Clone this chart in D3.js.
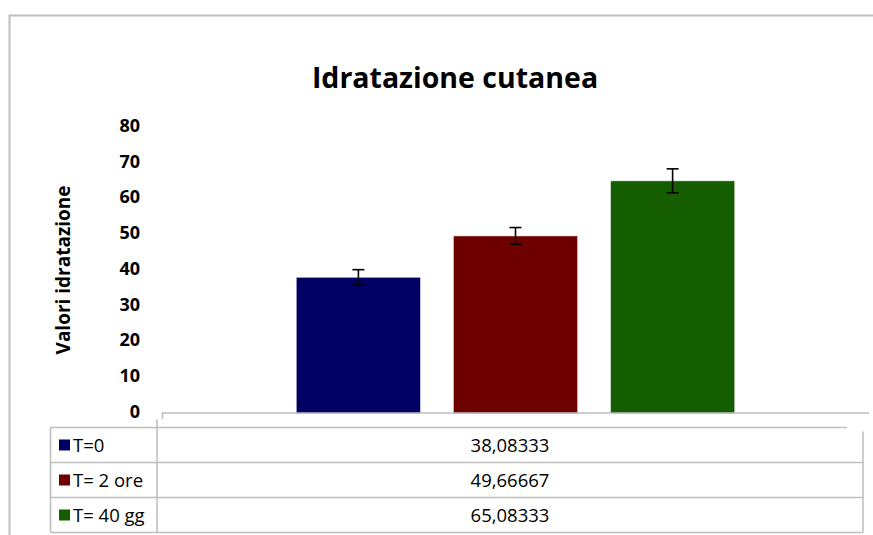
<!DOCTYPE html>
<html>
<head>
<meta charset="utf-8">
<script src="https://cdn.jsdelivr.net/npm/d3@7"></script>
<style>
  html, body { margin: 0; padding: 0; background: #fff; }
  svg { display: block; font-family: "Open Sans", sans-serif; }
</style>
</head>
<body>
<svg id="chart" width="873" height="535"></svg>
<script>
// ---- data ----
const category = ["Idratazione cutanea"];
const seriesNames = ["T=0", "T= 2 ore", "T= 40 gg"];
const seriesValues = [38.08333, 49.66667, 65.08333];
const seriesLabels = ["38,08333", "49,66667", "65,08333"];
const seriesErrors = [2.15, 2.35, 3.35];
const seriesColors = ["#000064", "#6e0000", "#145e00"];
const yTicks = [0, 10, 20, 30, 40, 50, 60, 70, 80];
const chartTitle = "Idratazione cutanea";
const yTitle = "Valori idratazione";

const svg = d3.select("#chart");
const frame = "#bfbfbf";

// chart frame (top + left visible)
svg.append("path")
  .attr("d", "M9.5,535 V15.5 H873")
  .attr("fill", "none").attr("stroke", frame).attr("stroke-width", 2);

// title
svg.append("text")
  .attr("x", 455).attr("y", 88)
  .attr("text-anchor", "middle")
  .attr("font-size", 28.5).attr("font-weight", 700)
  .text(chartTitle);

// scales
const plotLeft = 162, plotRight = 869;
const y = d3.scaleLinear().domain([0, 80]).range([413.5, 127.5]);
const x0 = d3.scaleBand().domain(category).range([plotLeft, plotRight])
  .paddingInner(0).paddingOuter(0.25);
const x1 = d3.scaleBand().domain(seriesNames).range([0, x0.bandwidth()])
  .paddingInner(0.21).paddingOuter(0.105);

// y axis labels (no axis line)
const yAxis = d3.axisLeft(y).tickValues(yTicks).tickSize(0).tickPadding(0);
const yg = svg.append("g").attr("transform", "translate(140,-2)").call(yAxis);
yg.select(".domain").remove();
yg.selectAll("text")
  .attr("font-family", "'Open Sans', sans-serif")
  .attr("font-size", 18).attr("font-weight", 700).attr("fill", "#000");

// y title
svg.append("text")
  .attr("transform", "translate(70,270) rotate(-90)")
  .attr("text-anchor", "middle")
  .attr("font-size", 19).attr("font-weight", 700)
  .text(yTitle);

// bars
const g = svg.append("g");
const data = seriesNames.map((s, i) => ({ s, v: seriesValues[i], e: seriesErrors[i], c: seriesColors[i] }));
const gx = x0(category[0]);
g.selectAll("rect.bar").data(data).enter().append("rect")
  .attr("class", "bar")
  .attr("x", d => gx + x1(d.s))
  .attr("y", d => y(d.v))
  .attr("width", x1.bandwidth())
  .attr("height", d => y(0) - y(d.v))
  .attr("fill", d => d.c)
  .attr("stroke", "#ffffff").attr("stroke-opacity", 0.45).attr("stroke-width", 1);

// error bars
const eb = g.selectAll("g.err").data(data).enter().append("g").attr("class", "err")
  .attr("stroke", "#000").attr("stroke-width", 1.6);
eb.append("line")
  .attr("x1", d => gx + x1(d.s) + x1.bandwidth() / 2)
  .attr("x2", d => gx + x1(d.s) + x1.bandwidth() / 2)
  .attr("y1", d => y(d.v + d.e)).attr("y2", d => y(d.v - d.e));
[1, -1].forEach(sign => {
  eb.append("line")
    .attr("x1", d => gx + x1(d.s) + x1.bandwidth() / 2 - 6)
    .attr("x2", d => gx + x1(d.s) + x1.bandwidth() / 2 + 6)
    .attr("y1", d => y(d.v + sign * d.e)).attr("y2", d => y(d.v + sign * d.e));
});

// x axis line with left tick
svg.append("path")
  .attr("d", `M${plotLeft + 0.5},419 V${y(0) - 0.5} H${plotRight}`)
  .attr("fill", "none").attr("stroke", frame).attr("stroke-width", 1.6);

// data table
const tLeft = 50.5, tDiv = 157, tRight = 863, tTop = 427.5;
const rowH = 35;
const rowTops = seriesNames.map((s, i) => tTop + i * rowH);
const tBottom = tTop + seriesNames.length * rowH;
const tg = svg.append("g").attr("stroke", frame).attr("stroke-width", 1.6).attr("fill", "none");
tg.append("line").attr("x1", tLeft).attr("x2", 847).attr("y1", tTop).attr("y2", tTop);
tg.append("line").attr("x1", tLeft).attr("x2", tLeft).attr("y1", tTop).attr("y2", tBottom);
tg.append("line").attr("x1", tDiv).attr("x2", tDiv).attr("y1", tTop - 8).attr("y2", tBottom);
tg.append("line").attr("x1", tRight).attr("x2", tRight).attr("y1", tTop + 4).attr("y2", tBottom);
rowTops.slice(1).concat([tBottom]).forEach(yy => {
  tg.append("line").attr("x1", tLeft).attr("x2", tRight).attr("y1", yy).attr("y2", yy);
});

const rows = svg.selectAll("g.row").data(data).enter().append("g").attr("class", "row")
  .attr("transform", (d, i) => `translate(0,${rowTops[i] + rowH / 2})`);
rows.append("rect")
  .attr("x", 59).attr("y", -5.5).attr("width", 11).attr("height", 11)
  .attr("fill", d => d.c);
rows.append("text")
  .attr("x", 73).attr("y", 6.5)
  .attr("font-size", 18.5)
  .attr("fill", "#000")
  .text(d => d.s);
rows.append("text")
  .attr("x", (tDiv + tRight) / 2).attr("y", 6.5)
  .attr("text-anchor", "middle")
  .attr("font-size", 18.5)
  .attr("fill", "#000")
  .text((d, i) => seriesLabels[i]);
</script>
</body>
</html>
